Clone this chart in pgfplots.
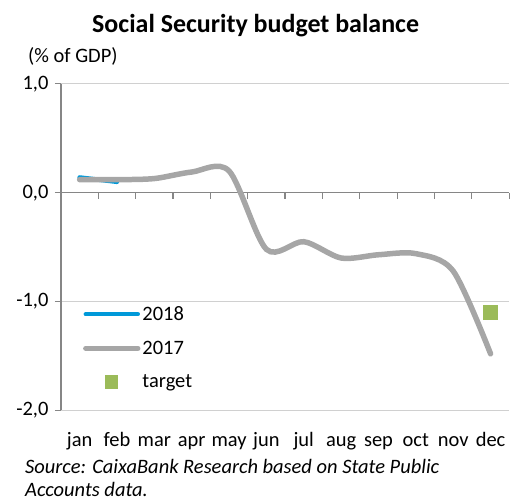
\documentclass[border=0pt]{standalone}
\usepackage{fontspec}
\setmainfont{Carlito}
\usepackage{pgfplots}
\pgfplotsset{compat=1.18}
\definecolor{c18}{HTML}{0099D9}
\definecolor{c17}{HTML}{A6A6A6}
\definecolor{ctg}{HTML}{9BBB59}
\definecolor{axgray}{HTML}{868686}
\definecolor{grd}{HTML}{D0D0D0}
\pgfplotsset{
  lineleg/.style={legend image code/.code={\draw[##1] (2.5pt,0pt) -- (54.5pt,0pt);}},
  tgtleg/.style={legend image code/.code={\draw[mark repeat=2,mark phase=2,##1, mark size=6.2pt] plot coordinates {(0pt,0pt) (28.5pt,0pt) (57pt,0pt)};}},
}
\begin{document}
\begin{tikzpicture}[x=1pt,y=1pt]
\path (0,0) rectangle (510,502);
\node[font=\bfseries\fontsize{26}{30}\selectfont, anchor=base] at (256,469) {Social Security budget balance};
\node[font=\fontsize{20.5}{24}\selectfont] at (73,445) {(\% of GDP)};
\node[font=\itshape\fontsize{20.5}{24}\selectfont, anchor=base west, inner sep=0pt] at (25,28) {Source: CaixaBank Research based on State Public};
\node[font=\itshape\fontsize{20.5}{24}\selectfont, anchor=base west, inner sep=0pt] at (25,5) {Accounts data.};
\begin{axis}[
  at={(61pt,91pt)}, anchor=south west,
  scale only axis, width=449pt, height=327pt,
  xmin=-0.5, xmax=11.5, ymin=-2, ymax=1,
  axis y line*=left, axis x line*=middle,
  x axis line style={-, draw=axgray, line width=1.5pt},
  y axis line style={-, draw=axgray, line width=1.5pt},
  ytick={-2,-1,0,1},
  ymajorgrids, grid style={grd, line width=1pt},
  ytick align=outside,
  xtick align=outside,
  major tick length=6pt,
  tick style={axgray, line width=1.2pt},
  xtick={0.5,1.5,...,11.5},
  xticklabels={jan,feb,mar,apr,may,jun,jul,aug,sep,oct,nov,dec},
  xticklabel style={anchor=base, xshift=-18.7pt, yshift=-248pt},
  yticklabel style={xshift=-3pt, /pgf/number format/.cd, fixed, fixed zerofill, precision=1, use comma, assume math mode=true},
  tick label style={font=\fontsize{20.5}{24}\selectfont},
  legend style={at={(rel axis cs:0.049,0.325)}, anchor=north west, draw=none, fill=none,
    row sep=15pt, font=\fontsize{20.5}{24}\selectfont, inner sep=0pt},
  legend cell align=left,
]
\addplot[c18, line width=4.5pt, line cap=round, smooth, tension=0.5, lineleg] coordinates {(0,0.14) (1,0.10)};
\addlegendentry{2018}
\addplot[c17, line width=5.5pt, line cap=round, smooth, tension=0.5, lineleg] coordinates {
(0,0.12) (1,0.12) (2,0.13) (3,0.19) (4,0.20) (5,-0.52) (6,-0.45) (7,-0.60) (8,-0.57) (9,-0.56) (10,-0.72) (11,-1.48)};
\addlegendentry{2017}
\addplot[only marks, mark=square*, mark size=6.8pt, ctg, mark options={draw=ctg, fill=ctg, line width=0pt}, tgtleg] coordinates {(11,-1.10)};
\addlegendentry{target}
\end{axis}
\end{tikzpicture}
\end{document}
